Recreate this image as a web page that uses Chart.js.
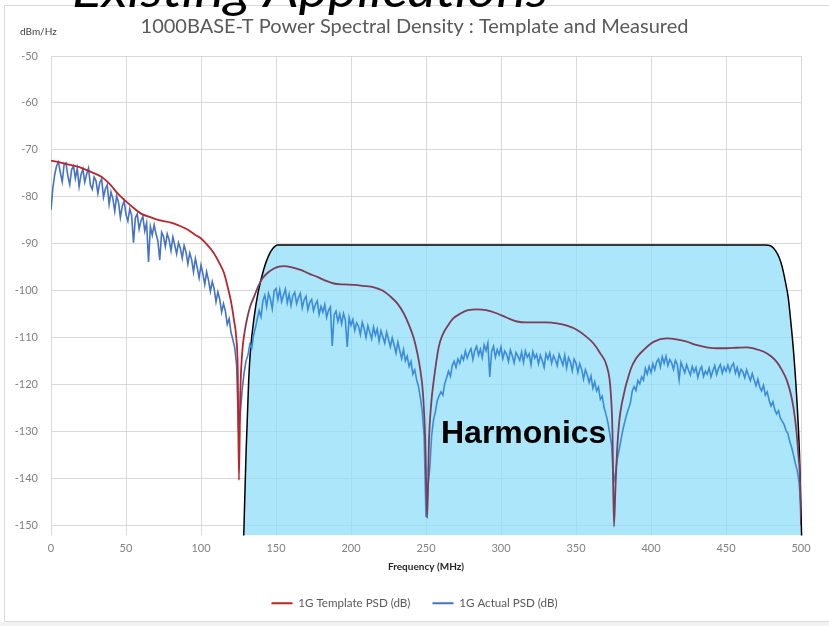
<!DOCTYPE html>
<html>
<head>
<meta charset="utf-8">
<title>1000BASE-T PSD</title>
<script src="https://cdn.jsdelivr.net/npm/chart.js@4.4.1/dist/chart.umd.min.js"></script>
<style>
html, body { margin: 0; padding: 0; background: #fff; }
#wrap { width: 829px; height: 626px; }
</style>
</head>
<body>
<div id="wrap"><canvas id="psdChart" width="829" height="626"></canvas></div>
<script>
// tick labels
const xTicks = [0, 50, 100, 150, 200, 250, 300, 350, 400, 450, 500];
const yTicks = [-50, -60, -70, -80, -90, -100, -110, -120, -130, -140, -150];

// 1G template PSD (smooth mask)
const templateFreq = [0, 5, 10, 17.8, 25, 33.3, 40, 44.4, 50, 55.5,
    60, 66.6, 72, 79.9, 85, 91, 96, 100, 104, 108.7,
    112, 115.4, 118, 119.8, 122, 123.5, 124.5, 125.3, 126.2, 127.6,
    129, 131, 133, 135.4, 138, 141, 144.5, 148.7, 152, 155.3,
    160, 166.4, 172, 177.6, 183, 188.6, 195, 201.9, 208, 215.3,
    221, 226.4, 231, 235.2, 238.5, 241.9, 244, 246, 248, 249.5,
    250.8, 252, 253.5, 255.2, 258.5, 261, 264.1, 268, 273, 278,
    284.1, 290, 297.4, 304, 310.7, 317, 324, 330, 337.3, 344,
    350.7, 356, 361.7, 366, 370.6, 373, 374.3, 375.3, 376.3, 377.3,
    378.8, 380.6, 386.2, 390, 395, 402, 410.6, 417, 423.9, 430,
    437.2, 444, 450.5, 457, 463.8, 469, 474.9, 480, 483.8, 487,
    490.5, 493, 494.9, 496.8, 498.2, 499.3, 500];
const templateDb = [-72.3, -72.6, -73.0, -73.6, -74.5, -75.7, -77.6, -79.3, -81.0, -82.5,
    -83.6, -84.4, -85.0, -85.5, -86.1, -87.0, -88.1, -88.9, -90.2, -92.1,
    -94.0, -96.3, -99.5, -102.0, -106.3, -110.0, -117.0, -140.4, -122.0, -112.7,
    -109.0, -105.6, -103.2, -101.3, -99.2, -97.4, -96.2, -95.3, -94.9, -94.8,
    -95.0, -95.6, -96.4, -97.1, -97.9, -98.5, -98.7, -98.8, -99.0, -99.3,
    -100.0, -101.3, -102.8, -104.9, -107.2, -110.2, -113.0, -116.5, -122.0, -132.0,
    -148.5, -132.0, -124.0, -119.1, -112.0, -109.5, -107.7, -106.0, -104.9, -104.2,
    -104.0, -104.2, -104.9, -105.8, -106.6, -106.8, -106.8, -106.8, -107.0, -107.5,
    -108.4, -109.6, -111.3, -113.3, -116.2, -121.0, -130.0, -150.3, -142.0, -134.7,
    -128.0, -124.0, -117.0, -114.5, -112.7, -110.9, -110.2, -110.4, -110.9, -111.6,
    -112.1, -112.3, -112.3, -112.2, -112.1, -112.4, -113.0, -114.0, -115.2, -116.8,
    -119.1, -121.8, -124.8, -129.5, -134.7, -140.0, -150.0];

// 1G actual (measured) PSD, one sample every 1.25 MHz from 0 to 500
const actualStep = 1.25;
const actualDb = [
    // 0 .. 125 MHz
    -82.8, -78.1, -75.2, -73.4, -72.6, -74.9, -76.8, -73.1, -72.8, -75.6,
    -77.4, -74.2, -73.5, -76.1, -74.0, -77.8, -75.3, -74.1, -76.9, -75.2,
    -73.9, -77.5, -78.4, -75.8, -76.6, -79.3, -77.0, -76.2, -80.1, -78.3,
    -77.5, -81.6, -79.0, -80.4, -83.1, -79.8, -81.2, -84.4, -82.0, -80.9,
    -83.8, -85.2, -82.6, -84.0, -89.8, -84.5, -83.7, -86.9, -85.1, -84.2,
    -87.3, -85.6, -93.9, -86.4, -88.2, -86.0, -87.9, -89.4, -93.5, -87.6,
    -88.5, -90.6, -87.9, -89.2, -91.5, -88.6, -90.3, -92.2, -89.8, -91.0,
    -93.1, -90.4, -91.8, -94.3, -92.0, -93.4, -96.0, -93.2, -95.1, -97.3,
    -94.6, -96.4, -98.7, -96.0, -97.8, -100.2, -98.1, -99.6, -102.4, -100.3,
    -101.9, -104.6, -102.8, -104.4, -107.2, -106.0, -108.9, -110.5, -112.2, -116.0,
    -130.0,
    // 126.25 .. 250 MHz
    -126.0, -121.0, -117.5, -115.0, -113.8, -111.5, -112.4, -109.6, -108.0, -106.1,
    -104.3, -105.6, -102.2, -101.0, -103.4, -100.6, -101.8, -103.9, -100.1, -99.6,
    -101.9, -99.8, -102.4, -101.0, -99.7, -102.6, -100.8, -103.2, -101.1, -100.4,
    -102.8, -101.5, -100.6, -103.7, -102.0, -101.2, -104.1, -102.5, -101.9, -104.3,
    -103.0, -102.2, -105.1, -103.4, -104.6, -103.0, -105.7, -104.2, -103.5, -111.8,
    -105.2, -104.4, -106.6, -105.0, -107.1, -104.9, -106.3, -112.0, -105.8, -107.4,
    -106.2, -108.5, -106.9, -107.6, -109.4, -106.8, -108.1, -110.0, -107.5, -108.9,
    -110.3, -107.8, -109.5, -108.2, -110.8, -108.6, -109.9, -111.2, -108.9, -110.4,
    -112.0, -110.1, -111.6, -113.3, -111.0, -112.8, -114.5, -112.6, -115.0, -114.0,
    -116.2, -115.1, -117.8, -116.9, -119.0, -120.5, -122.8, -125.9, -131.0, -148.3,
    // 251.25 .. 375 MHz
    -142.0, -138.0, -131.0, -127.6, -125.8, -123.5, -122.4, -121.6, -122.3, -119.8,
    -118.6, -117.2, -118.3, -116.0, -115.1, -116.4, -114.6, -115.5, -113.9, -114.8,
    -112.9, -114.4, -113.2, -112.4, -114.7, -112.8, -111.9, -113.8, -112.5, -114.3,
    -111.6, -112.8, -111.2, -118.4, -113.0, -111.9, -114.2, -112.6, -113.7, -112.1,
    -114.5, -112.9, -113.6, -115.1, -112.7, -113.9, -115.4, -113.2, -114.0, -114.9,
    -113.1, -115.3, -112.9, -114.2, -113.5, -115.8, -113.0, -114.4, -113.6, -115.6,
    -113.8, -114.9, -116.4, -113.5, -114.6, -113.3, -115.5, -113.9, -114.8, -116.0,
    -113.6, -114.7, -115.9, -113.8, -116.5, -114.3, -115.2, -117.1, -114.6, -115.5,
    -117.4, -115.6, -116.8, -118.9, -116.9, -118.0, -119.6, -118.2, -120.8, -119.5,
    -121.4, -120.6, -123.2, -122.5, -125.0, -126.4, -128.1, -130.5, -133.0, -141.0,
    // 376.25 .. 500 MHz
    -139.0, -136.0, -134.0, -131.8, -129.7, -128.0, -126.4, -125.2, -124.0, -121.4,
    -120.5, -121.3, -119.2, -119.9, -118.4, -119.1, -116.6, -117.8, -116.2, -117.5,
    -115.6, -116.9, -115.2, -114.6, -116.3, -114.1, -115.5, -114.0, -116.0, -114.7,
    -115.4, -116.8, -114.9, -115.7, -119.0, -115.3, -116.4, -117.5, -115.8, -117.0,
    -118.0, -116.2, -117.4, -116.4, -118.5, -117.0, -116.2, -118.3, -117.2, -117.8,
    -116.5, -118.4, -117.1, -116.0, -117.9, -116.6, -115.8, -117.6, -116.3, -117.2,
    -115.9, -117.3, -116.1, -115.5, -117.6, -116.4, -118.2, -116.8, -117.3, -118.6,
    -116.9, -118.1, -119.2, -117.7, -119.0, -120.3, -118.9, -120.6, -121.4, -120.2,
    -122.3, -121.6, -123.4, -124.6, -123.7, -125.4, -126.3, -125.6, -127.2, -127.9,
    -128.6, -129.8, -130.5, -132.2, -133.4, -135.1, -136.9, -138.4, -141.0, -146.5];

// "Harmonics" highlight outline
const boxFreq = [128.5, 130, 131.8, 133, 135.5, 138, 141.8, 145, 148, 151,
    160, 476, 480, 483, 485.5, 487.5, 489.5, 491.5, 493, 494.9, 497, 499, 500.4];
const boxDb = [-152.2, -135, -119, -112.7, -105.5, -100.5, -95.5, -92.6, -91, -90.3,
    -90.3, -90.3, -90.5, -91.5, -93, -95, -98, -101.5, -106, -112.5, -122, -135, -152.2];

const boxEdgeFreq = 129;
const harmonicsAt = [260, -132.5];

const redOut = '#B8262B', redIn = '#7E3D57';
const blueOut = '#4472C4', blueIn = '#3B8BDD';
const gridColor = '#D9D9D9';

function toPoints(xs, ys) {
    return xs.map((x, i) => ({x: x, y: ys[i]}));
}
const actualFreq = actualDb.map((v, i) => i * actualStep);

const slideDecor = {
    id: 'slideDecor',
    beforeDraw(chart) {
        const c = chart.ctx;
        c.save();
        c.fillStyle = '#fff';
        c.fillRect(0, 0, chart.width, chart.height);
        c.fillStyle = '#f2f2f2';
        c.fillRect(0, 622, chart.width, chart.height - 622);
        c.strokeStyle = gridColor;
        c.lineWidth = 1;
        c.beginPath();
        c.moveTo(4, 5.5); c.lineTo(chart.width, 5.5);
        c.moveTo(4.5, 5); c.lineTo(4.5, 621.5); c.lineTo(chart.width, 621.5);
        c.stroke();
        c.fillStyle = '#404040';
        c.font = '10px Lato';
        c.textAlign = 'left';
        c.textBaseline = 'alphabetic';
        c.fillText('dBm/Hz', 20, 35);
        c.restore();
    },
    afterDatasetsDraw(chart) {
        const c = chart.ctx;
        const {x, y} = chart.scales;
        c.save();
        c.fillStyle = '#000';
        c.font = 'bold 32px "Liberation Sans"';
        c.textAlign = 'left';
        c.textBaseline = 'alphabetic';
        c.fillText('Harmonics', x.getPixelForValue(harmonicsAt[0]), y.getPixelForValue(harmonicsAt[1]));
        c.restore();
    },
    afterDraw(chart) {
        // slide heading, cut off by the top of the picture
        const c = chart.ctx;
        const txt = 'Existing Applications';
        c.save();
        c.fillStyle = '#000';
        c.font = 'italic 48px Lato';
        c.textAlign = 'left';
        c.textBaseline = 'alphabetic';
        const w = c.measureText(txt).width;
        c.translate(72, 7);
        c.scale(476 / w, 1);
        c.fillText(txt, 0, 0);
        c.restore();
    }
};

new Chart(document.getElementById('psdChart'), {
    type: 'line',
    data: {
        datasets: [{
            label: '1G Template PSD (dB)',
            data: toPoints(templateFreq, templateDb),
            borderColor: redOut,
            backgroundColor: redOut,
            borderWidth: 1.8,
            pointRadius: 0,
            cubicInterpolationMode: 'monotone',
            segment: {
                borderColor: ctx => ctx.p0.parsed.x >= boxEdgeFreq ? redIn : redOut
            },
            order: 0
        }, {
            label: '1G Actual PSD (dB)',
            data: toPoints(actualFreq, actualDb),
            borderColor: blueOut,
            backgroundColor: blueOut,
            borderWidth: 1.6,
            pointRadius: 0,
            tension: 0,
            segment: {
                borderColor: ctx => ctx.p0.parsed.x >= boxEdgeFreq ? blueIn : blueOut
            },
            order: 1
        }, {
            label: 'Harmonics',
            data: toPoints(boxFreq, boxDb),
            borderColor: '#000',
            backgroundColor: 'rgba(140, 220, 248, 0.72)',
            borderWidth: 1.5,
            pointRadius: 0,
            fill: 'start',
            cubicInterpolationMode: 'monotone',
            clip: false,
            order: 2
        }]
    },
    options: {
        responsive: false,
        devicePixelRatio: 1,
        animation: false,
        layout: {padding: {left: 0, right: 0, top: 0, bottom: 7}},
        scales: {
            x: {
                type: 'linear',
                min: 0,
                max: 500,
                afterBuildTicks: s => { s.ticks = xTicks.map(v => ({value: v})); },
                afterFit: s => { s.height = 40; },
                ticks: {color: '#808080', font: {family: 'Lato', size: 11}, padding: 6, maxRotation: 0},
                grid: {color: gridColor, drawTicks: false},
                border: {display: false},
                title: {
                    display: true,
                    text: 'Frequency (MHz)',
                    color: '#262626',
                    font: {family: 'Lato', size: 10, weight: 'bold'},
                    padding: {top: 0, bottom: 3}
                }
            },
            y: {
                min: -152.2,
                max: -50,
                afterBuildTicks: s => { s.ticks = yTicks.map(v => ({value: v})); },
                afterFit: s => { s.width = 51; },
                ticks: {color: '#808080', font: {family: 'Lato', size: 11}, padding: 13},
                grid: {color: gridColor, drawTicks: false},
                border: {display: false}
            },
            // empty right margin so the title centres on the whole picture
            yRight: {
                position: 'right',
                display: true,
                afterFit: s => { s.width = 28; },
                ticks: {display: false},
                grid: {display: false},
                border: {display: false}
            }
        },
        plugins: {
            title: {
                display: true,
                text: '1000BASE-T Power Spectral Density : Template and Measured',
                color: '#595959',
                font: {family: 'Lato', size: 20, weight: 'normal'},
                padding: {top: 15, bottom: 17}
            },
            legend: {
                position: 'bottom',
                labels: {
                    color: '#595959',
                    font: {family: 'Lato', size: 11.6},
                    boxWidth: 21,
                    boxHeight: 2,
                    padding: 22,
                    filter: item => item.datasetIndex < 2,
                    generateLabels: chart => {
                        const items = Chart.defaults.plugins.legend.labels.generateLabels(chart);
                        items.forEach(it => { it.lineWidth = 0; });
                        return items;
                    }
                }
            },
            tooltip: {enabled: false}
        }
    },
    plugins: [slideDecor]
});
</script>
</body>
</html>
